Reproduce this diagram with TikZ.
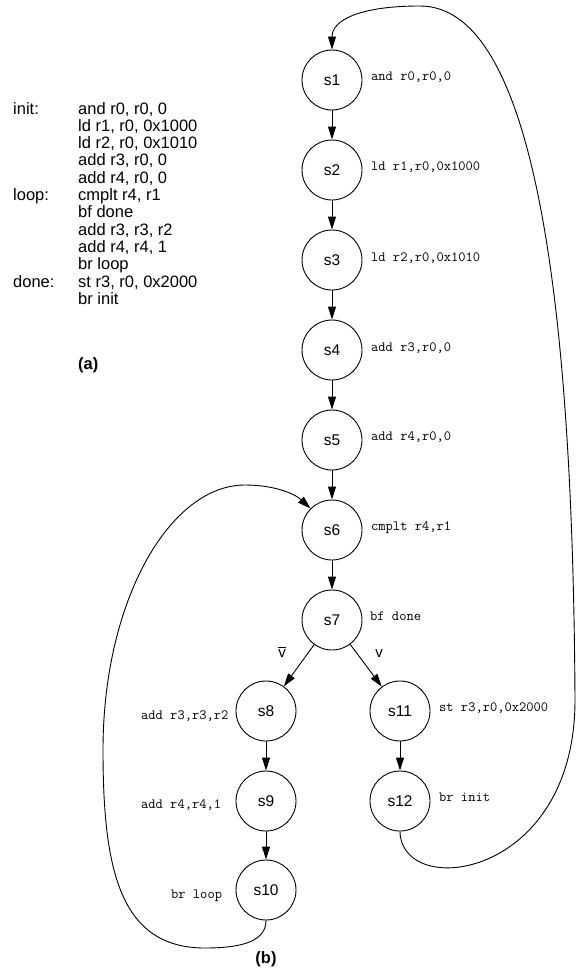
\documentclass[tikz,border=0pt]{standalone}
\usepackage{fontspec}
\setmainfont{Liberation Sans}
\usetikzlibrary{arrows.meta}
\begin{document}
\begin{tikzpicture}[x=1pt,y=-1pt,
  st/.style={circle,draw,line width=0.9pt,minimum size=60pt,inner sep=0pt,font=\fontsize{15.5}{18}\selectfont},
  ins/.style={font=\ttfamily\fontsize{14.1}{16}\selectfont,inner sep=0pt,anchor=base west},
  arr/.style={line width=0.9pt,-{Triangle[length=13pt,width=8pt]}},
  lbl/.style={font=\fontsize{15}{18}\selectfont,inner sep=0pt,anchor=base}]
\fill[white] (0,0) rectangle (576,974);
\useasboundingbox (0,0) rectangle (576,974);

% program text (a)
\node[anchor=base west,inner sep=0pt,font=\fontsize{16.5}{17.3}\selectfont] (code) at (13,114)
 {\begin{tabular}[t]{@{}p{65pt}@{}l@{}}
  init: & and r0, r0, 0\\
        & ld r1, r0, 0x1000\\
        & ld r2, r0, 0x1010\\
        & add r3, r0, 0\\
        & add r4, r0, 0\\
  loop: & cmplt r4, r1\\
        & bf done\\
        & add r3, r3, r2\\
        & add r4, r4, 1\\
        & br loop\\
  done: & st r3, r0, 0x2000\\
        & br init
  \end{tabular}};
\node[anchor=base west,inner sep=0pt,font=\bfseries\fontsize{16.5}{18}\selectfont] (capa) at (78,369) {(a)};
\node[anchor=base,inner sep=0pt,font=\bfseries\fontsize{16.5}{18}\selectfont] (capb) at (266,963) {(b)};

% states
\node[st] (s1) at (332,80) {s1};
\node[st] (s2) at (332,170) {s2};
\node[st] (s3) at (332,260) {s3};
\node[st] (s4) at (332,350) {s4};
\node[st] (s5) at (332,440) {s5};
\node[st] (s6) at (332,530) {s6};
\node[st] (s7) at (332,620) {s7};
\node[st] (s8) at (266,711) {s8};
\node[st] (s9) at (266,801) {s9};
\node[st] (s10) at (266,890) {s10};
\node[st] (s11) at (400,711) {s11};
\node[st] (s12) at (400,801) {s12};

% instruction labels
\node[ins] (l1) at (371,81) {and r0,r0,0};
\node[ins] (l2) at (371,170) {ld r1,r0,0x1000};
\node[ins] (l3) at (371,261) {ld r2,r0,0x1010};
\node[ins] (l4) at (371,351) {add r3,r0,0};
\node[ins] (l5) at (371,440) {add r4,r0,0};
\node[ins] (l6) at (371,530) {cmplt r4,r1};
\node[ins] (l7) at (370,620) {bf done};
\node[ins] (l11) at (439,711) {st r3,r0,0x2000};
\node[ins] (l12) at (439,801) {br init};
\node[ins] (l8) at (141,719) {add r3,r3,r2};
\node[ins] (l9) at (141,808) {add r4,r4,1};
\node[ins] (l10) at (171,898) {br loop};

% branch labels
\node[lbl] (vbar) at (282,657) {$\overline{\hbox{v}}$};
\node[lbl] (v) at (379,657) {v};

% straight transitions
\draw[arr] (s1) -- (s2);
\draw[arr] (s2) -- (s3);
\draw[arr] (s3) -- (s4);
\draw[arr] (s4) -- (s5);
\draw[arr] (s5) -- (s6);
\draw[arr] (s6) -- (s7);
\draw[arr] (s7) -- (s8);
\draw[arr] (s7) -- (s11);
\draw[arr] (s8) -- (s9);
\draw[arr] (s9) -- (s10);
\draw[arr] (s11) -- (s12);

% back edges
\draw[arr] (s12.south) .. controls (401,900) and (575,880) .. (575,700)
  .. controls (573,330) and (540,6) .. (420,6)
  .. controls (360,6) and (332,20) .. (s1.north);
\draw[arr] (s10.south) .. controls (266,940) and (245,948) .. (205,948)
  .. controls (120,948) and (103,870) .. (103,750)
  .. controls (103,600) and (170,485) .. (245,485)
  .. controls (275,485) and (295,494) .. (s6.135);
\end{tikzpicture}
\end{document}
